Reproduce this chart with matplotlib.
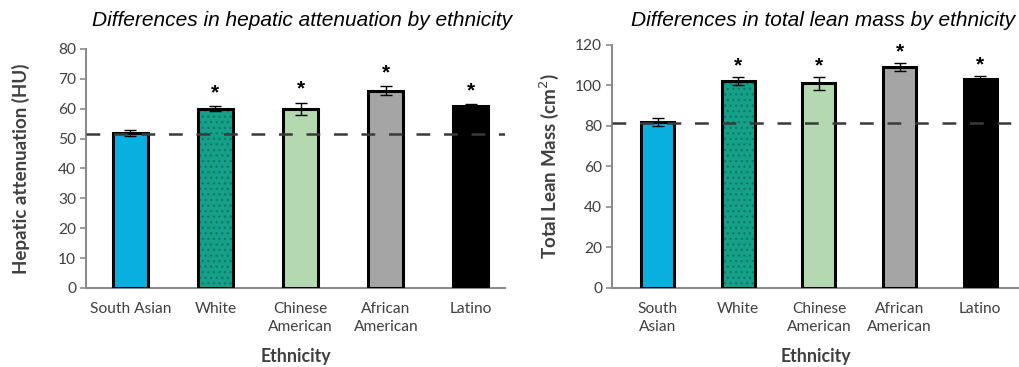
import matplotlib
matplotlib.use("Agg")
import matplotlib.pyplot as plt
import numpy as np

# Data
categories = ["South Asian", "White", "Chinese\nAmerican", "African\nAmerican", "Latino"]
categories_right = ["South\nAsian", "White", "Chinese\nAmerican", "African\nAmerican", "Latino"]

hepatic_values = [52, 60, 60, 66, 61]
hepatic_errors = [1.0, 0.8, 2.0, 1.5, 0.6]
hepatic_reference = 51.5
hepatic_significant = [False, True, True, True, True]

lean_values = [82, 102, 101, 109, 103]
lean_errors = [2.0, 2.0, 3.0, 2.0, 1.5]
lean_reference = 81.5
lean_significant = [False, True, True, True, True]

bar_colors = ["#08afdf", "#16a08a", "#b4d9b0", "#a5a5a5", "#000000"]

TICK_FONT = "Lato"
TITLE_FONT = "Liberation Sans"
TEXT_GREY = "#404040"
SPINE_GREY = "#8c8c8c"

fig = plt.figure(figsize=(10.2, 3.67), dpi=100)


def draw_panel(ax, labels, values, errors, reference, significant,
               ymax, ystep, ylabel, title, star_gap, title_x, ylabel_pad):
    x = np.arange(len(values))
    width = 0.41
    for i, (xi, v, c) in enumerate(zip(x, values, bar_colors)):
        if i == 1:
            # dotted fill for the second group
            ax.bar(xi, v, width, color=c, edgecolor="#0c7d6a", hatch="...",
                   linewidth=0, zorder=2)
            ax.bar(xi, v, width, color="none", edgecolor="black",
                   linewidth=2.2, zorder=3)
        else:
            ax.bar(xi, v, width, color=c, edgecolor="black",
                   linewidth=2.2, zorder=3)
    ax.errorbar(x, values, yerr=errors, fmt="none", ecolor="black",
                elinewidth=1.0, capsize=4, capthick=1.0, zorder=4)
    ax.axhline(reference, color="#3a3a3a", linewidth=1.8,
               dashes=(5.5, 5.5), zorder=5)
    for xi, v, e, s in zip(x, values, errors, significant):
        if s:
            ax.text(xi, v + e + star_gap, "*", ha="center", va="center",
                    fontsize=15, fontweight="bold", color="black",
                    family=TITLE_FONT)

    ax.set_ylim(0, ymax)
    ax.set_yticks(np.arange(0, ymax + 1, ystep))
    ax.set_xticks(x)
    ax.set_xticklabels(labels, family=TICK_FONT, fontsize=11.2,
                       color=TEXT_GREY, linespacing=1.35)
    for lab in ax.get_yticklabels():
        lab.set_family(TICK_FONT)
        lab.set_fontsize(11.2)
        lab.set_color(TEXT_GREY)
    ax.tick_params(axis="x", length=0, pad=10)
    ax.tick_params(axis="y", length=4, width=1.2, color=SPINE_GREY, pad=3)
    for side in ("top", "right"):
        ax.spines[side].set_visible(False)
    for side in ("left", "bottom"):
        ax.spines[side].set_color(SPINE_GREY)
        ax.spines[side].set_linewidth(1.5)
    ax.set_ylabel(ylabel, family=TICK_FONT, fontsize=13.5,
                  fontweight="bold", color=TEXT_GREY, labelpad=ylabel_pad)
    ax.set_xlabel("Ethnicity", family=TICK_FONT, fontsize=12.8,
                  fontweight="bold", color=TEXT_GREY, labelpad=10)
    fig.text(title_x, 0.943, title, ha="center", va="center",
             family=TITLE_FONT, style="italic", fontsize=15, color="black")


ax1 = fig.add_axes([0.0843, 0.2153, 0.4108, 0.6512])
draw_panel(ax1, categories, hepatic_values, hepatic_errors, hepatic_reference,
           hepatic_significant, 80, 10, "Hepatic attenuation (HU)",
           "Differences in hepatic attenuation by ethnicity", 4.5, 0.296, 20)
ax1.set_xlim(-0.52, 4.40)

ax2 = fig.add_axes([0.600, 0.2153, 0.399, 0.6621])
draw_panel(ax2, categories_right, lean_values, lean_errors, lean_reference,
           lean_significant, 120, 20, "Total Lean Mass (cm$^{2}$)",
           "Differences in total lean mass by ethnicity", 5.5, 0.807, 10)
ax2.set_xlim(-0.565, 4.48)

fig.savefig("out.png", dpi=100)
